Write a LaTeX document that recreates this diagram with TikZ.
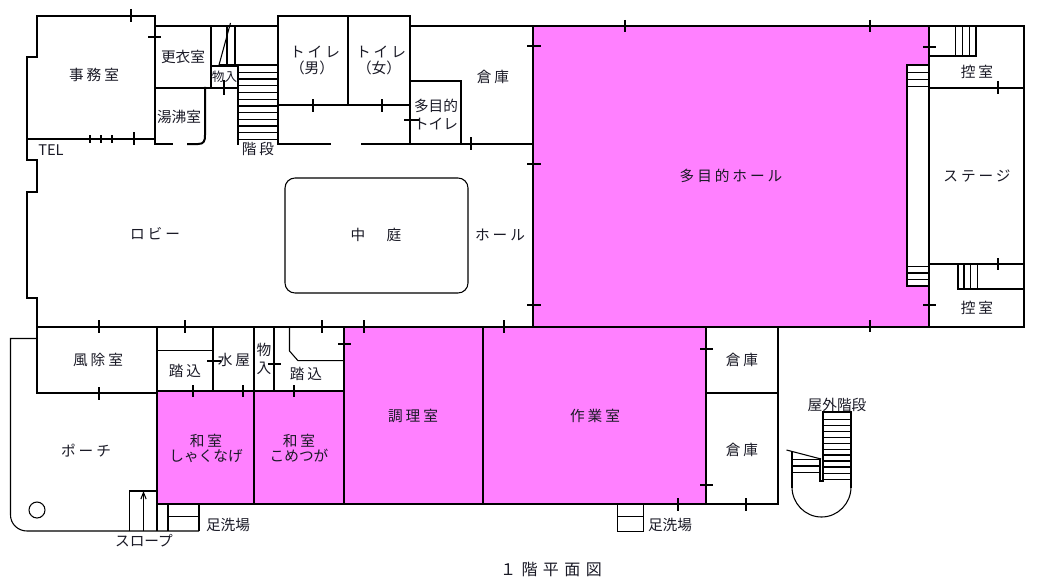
\documentclass[tikz,border=0pt]{standalone}
\usepackage{fontspec}
\usetikzlibrary{arrows.meta}
\setmainfont{Noto Sans CJK JP}
\newfontfamily\jpa{Noto Sans CJK JP}
\newfontfamily\jpc{Noto Sans CJK JP}[LetterSpace=20]
\newfontfamily\jpd{Noto Sans CJK JP}[LetterSpace=34]
\definecolor{hallpink}{HTML}{FF80FF}
\definecolor{inkc}{HTML}{1A1A26}
\tikzset{
  wall/.style={line width=1.5pt,line cap=rect,black},
  tick/.style={line width=1.5pt,black},
  thinl/.style={line width=0.8pt,black},
  lbl/.style={inner sep=0pt,text=inkc,align=center,font=\jpc\fontsize{11}{12}\selectfont},
  lbla/.style={lbl,font=\jpa\fontsize{11}{12}\selectfont},
  lbld/.style={lbl,font=\jpd\fontsize{12}{13}\selectfont},
  lblt/.style={lbl,font=\jpa\fontsize{9.4}{11}\selectfont},
}
\begin{document}
\begin{tikzpicture}[x=0.75pt,y=-0.75pt]
\useasboundingbox (0,0) rectangle (1045,585);
\fill[white] (0,0) rectangle (1045,585);
% coloured rooms
\fill[hallpink] (533,26) rectangle (929,327);
\fill[hallpink] (344,327) rectangle (706,504);
\fill[hallpink] (157,391) rectangle (344,504);
\fill[white] (907,65) rectangle (929,286);

% thin lines
\begin{scope}[thinl]
\draw[rounded corners=7.5pt] (285,178) rectangle (468,293);
\draw (37,338.5) -- (10.5,338.5) -- (10.5,515) .. controls (10.5,524) and (18,531) .. (27,531) -- (199,531);
\draw (129.5,531) -- (129.5,491) -- (157,491) -- (157,531);
\draw (168,504) -- (168,531);
\draw (199,504) -- (199,531);
\draw (168,516.5) -- (199,516.5);
\draw (37,510) circle[radius=6pt];
\draw[-{Straight Barb[length=5pt,width=4pt]}] (143.5,531) -- (143.5,491);
\draw (617.5,504) rectangle (643.5,531.5);
\draw (617.5,516.5) -- (643.5,516.5);
\draw (157,350.5) -- (213,350.5);
\draw (289.5,327) -- (289.5,351) -- (298,360.7) -- (344,360.7);
% stair above storeroom
\draw (227,26) -- (227,65);
\draw (235,26) -- (235,65);
\draw (230.5,23) -- (219,65);
\draw (219,65) -- (278,65);
\foreach \y in {72.3,79,85.7,92.3,99.3,106,112.7,119.3,126,132.7,139.3} \draw (238,\y) -- (278,\y);
% stage steps
\draw (907,65) -- (929,65);
\draw (907,286) -- (929,286);
\foreach \y in {72.3,79.3,86.3,266.3,273,279.7} \draw (907,\y) -- (929,\y);
\foreach \x in {955.3,962.3,969.3,976} \draw (\x,26) -- (\x,56);
\foreach \x in {964,970.7,977.7} \draw (\x,264) -- (\x,289);
% outer stair
\foreach \y in {419.3,425.3,431.7,437.7,443.7,449.3,455,461,467,473.3,479.3} \draw (823,\y) -- (851,\y);
\foreach \y in {459.7,466,472.7} \draw (792,\y) -- (819.5,\y);
\draw (786.5,450) -- (821,459);
\draw (792,487) .. controls (792,503.3) and (805,517) .. (821.5,517) .. controls (838,517) and (851,503.3) .. (851,487);
\end{scope}

% heavy walls
\begin{scope}[wall]
\draw (37,16) -- (155,16) -- (155,144) -- (172,144);
\draw (188,144) -- (198,144) .. controls (204,144) and (205,141) .. (205,135) -- (205,88);
\draw (37,16) -- (37,57) -- (27,57) -- (27,160) -- (37,160) -- (37,192) -- (27,192) -- (27,298) -- (37,298) -- (37,393) -- (157,393);
\draw (27,139) -- (155,139);
\draw (155,26) -- (278,26);
\draw (211,26) -- (211,88);
\draw (155,88) -- (238,88);
\draw (211,66) -- (238,66) -- (238,144);
\draw (278,16) -- (410,16) -- (410,144);
\draw (278,16) -- (278,144) -- (330,144);
\draw (362,144) -- (533,144);
\draw (348,16) -- (348,105);
\draw (278,105) -- (410,105);
\draw (410,26) -- (533,26);
\draw (410,81) -- (461,81) -- (461,144);
\draw (533,26) rectangle (929,327);
\draw (929,26) -- (1024,26) -- (1024,327) -- (929,327);
\draw (929,88) -- (1024,88);
\draw (929,264) -- (1024,264);
\draw (929,56) -- (976,56);
\draw (957.5,264) -- (957.5,289) -- (1024,289);
\draw (907,65) -- (907,286);
\draw (37,327) -- (533,327);
\draw (533,327) -- (778,327) -- (778,504) -- (157,504) -- (157,327);
\draw (157,391) -- (344,391);
\draw (213,327) -- (213,391);
\draw (254,327) -- (254,504);
\draw (274,327) -- (274,391);
\draw (344,327) -- (344,504);
\draw (483,327) -- (483,504);
\draw (706,327) -- (706,504);
\draw (706,393) -- (778,393);
% outer stair
\draw (851,487) -- (851,412) -- (823,412) -- (823,481) -- (819.5,481) -- (819.5,459);
\draw (792,452) -- (792,487);
\end{scope}

% door ticks
\foreach \x/\a/\b in {131/9/22, 90/135/143, 101/135/143, 112/135/143, 134/132/145, 224/80/95, 313/99/112, 382/99/112, 471/137/150, 625/20/32, 870/20/32, 870/320/332, 998/81/94, 998/258/270, 99/320/333, 185/320/333, 322/320/333, 364/320/333, 504/320/333, 193/385/397, 243/385/397, 294/385/397, 99/387/400, 678/498/511, 746/498/511}
  \draw[tick] (\x,\a) -- (\x,\b);
\foreach \y/\a/\b in {37/148/161, 119.5/404/420, 46/527/541, 164/527/541, 305/527/541, 47/923/936, 305/923/936, 344/338/351, 361/207/221, 364/268/281, 349/700/713, 485/700/713}
  \draw[tick] (\a,\y) -- (\b,\y);

% labels
\node[lbl] (n1) at (94,75) {事務室};
\node[lbla] (n2) at (183,57) {更衣室};
\node[lbla] (n3) at (179,116.5) {湯沸室};
\node[lblt] (n4) at (224.5,77) {物入};
\node[lbl] (n5) at (258,148.5) {階段};
\node[lbla] (n6) at (51,150) {TEL};
\node[lbl] (n7) at (315,52) {トイレ};
\node[lbla] (n8) at (312,68) {（男）};
\node[lbl] (n9) at (381,52) {トイレ};
\node[lbla] (n10) at (379,68) {（女）};
\node[lbl] (n11) at (493,77) {倉庫};
\node[lbla] (n12) at (436,105.5) {多目的};
\node[lbla] (n13) at (436,124) {トイレ};
\node[lbl] (n14) at (155,234) {ロビー};
\node[lbla] (n15) at (376,235) {中\kern16pt 庭};
\node[lbl] (n16) at (500,235) {ホール};
\node[lbl] (n17) at (731,176) {多目的ホール};
\node[lbl] (n18) at (977,176) {ステージ};
\node[lbl] (n19) at (977,72) {控室};
\node[lbl] (n20) at (977,308) {控室};
\node[lbl] (n21) at (98,360) {風除室};
\node[lbl] (n22) at (185,371) {踏込};
\node[lbl] (n23) at (234,360) {水屋};
\node[lbla] (n24) at (264,350) {物};
\node[lbla] (n25) at (264,368) {入};
\node[lbl] (n26) at (306,374) {踏込};
\node[lbl] (n27) at (206,441) {和室};
\node[lbla] (n28) at (206,456) {しゃくなげ};
\node[lbl] (n29) at (299,441) {和室};
\node[lbla] (n30) at (299,456) {こめつが};
\node[lbl] (n31) at (413,416) {調理室};
\node[lbl] (n32) at (595,416) {作業室};
\node[lbl] (n33) at (742,360) {倉庫};
\node[lbl] (n34) at (742,450) {倉庫};
\node[lbla] (n35) at (837,405) {屋外階段};
\node[lbl] (n36) at (86,451) {ポーチ};
\node[lbla] (n37) at (144,541) {スロープ};
\node[lbla] (n38) at (228,525) {足洗場};
\node[lbla] (n39) at (670,525) {足洗場};
\node[lbld] (n40) at (551,570) {１階平面図};
\end{tikzpicture}
\end{document}
